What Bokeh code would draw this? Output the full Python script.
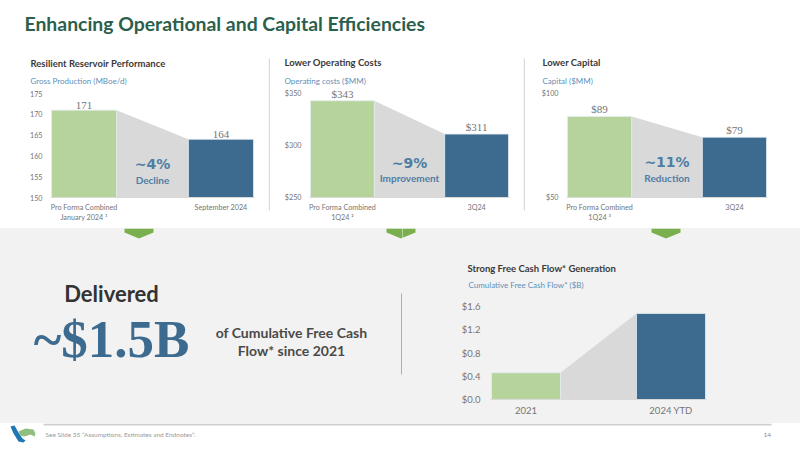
from bokeh.embed import file_html
from bokeh.layouts import column, row
from bokeh.models import ColumnDataSource, Label, LabelSet, Range1d
from bokeh.plotting import figure
from bokeh.resources import INLINE

# ---- data ----
prod_labels = ["Pro Forma Combined\nJanuary 2024 ¹", "September 2024"]
prod_values = [171, 164]
prod_ticks = [150, 155, 160, 165, 170, 175]
prod_text = ["171", "164"]

opex_labels = ["Pro Forma Combined\n1Q24 ²", "3Q24"]
opex_values = [343, 311]
opex_ticks = [250, 300, 350]
opex_text = ["$343", "$311"]

capex_labels = ["Pro Forma Combined\n1Q24 ³", "3Q24"]
capex_values = [89, 79]
capex_ticks = [50, 100]
capex_text = ["$89", "$79"]

fcf_labels = ["2021", "2024 YTD"]
fcf_values = [0.46, 1.48]
fcf_ticks = [0.0, 0.4, 0.8, 1.2, 1.6]

GREEN, BLUE, GREY = "#b6d39b", "#3d6b8f", "#d9d9d9"
BAND, TICK = "#f2f2f2", "#757575"
ACCENT, SUB, DARK = "#4f7da3", "#5f8fb8", "#3a3a3a"
ARROW = "#79b04d"
FONT = "Lato"


def blank(x0, y0, w, h, bg):
    """A figure without axes whose ranges are slide pixels."""
    p = figure(width=w, height=h, output_backend="svg", toolbar_location=None,
               x_range=Range1d(x0, x0 + w), y_range=Range1d(y0 + h, y0),
               min_border=0, background_fill_color=bg, border_fill_color=bg,
               frame_align=False)
    p.axis.visible = False
    p.grid.visible = False
    p.outline_line_color = None
    return p


def text(p, s, x, y, size, color=DARK, bold=False, align="left", font=FONT):
    p.add_layout(Label(x=x, y=y, text=s, text_font=font, text_font_size=f"{size}px",
                       text_color=color, text_font_style="bold" if bold else "normal",
                       text_align=align, text_baseline="middle"))


def poly(p, xs, ys, color):
    p.patch(xs, ys, fill_color=color, line_color=None)


def chart(values, labels, ticks, fmt, size, border, bg, tick_size, y_standoff, plot_h, head=0):
    w, h = size
    left, right, bottom = border
    bw = 0.476
    ymin, ymax = ticks[0], ticks[-1]
    top = ymax + head * (ymax - ymin) / plot_h
    p = figure(width=w, height=h, output_backend="svg", toolbar_location=None,
               x_range=Range1d(-0.245, 1.245), y_range=Range1d(ymin, top),
               min_border_left=left, min_border_right=right, min_border_top=0,
               min_border_bottom=bottom, background_fill_color=bg, border_fill_color=bg,
               frame_align=False)
    p.grid.visible = False
    p.outline_line_color = None
    p.patch([bw / 2, 1 - bw / 2, 1 - bw / 2, bw / 2],
            [values[0], values[1], ymin, ymin], fill_color=GREY, line_color=None)
    src = ColumnDataSource(dict(x=[0, 1], top=values, color=[GREEN, BLUE]))
    p.vbar(x="x", top="top", bottom=ymin, width=bw, fill_color="color",
           line_color="#e4edf2", line_width=0.8, source=src)
    p.yaxis.ticker = ticks
    p.yaxis.major_label_overrides = {t: fmt(t) for t in ticks}
    p.xaxis.ticker = [0, 1]
    p.xaxis.major_label_overrides = {0: labels[0], 1: labels[1]}
    for ax in (p.xaxis[0], p.yaxis[0]):
        ax.major_tick_line_color = None
        ax.minor_tick_line_color = None
        ax.major_label_text_font = FONT
        ax.major_label_text_color = TICK
        ax.major_label_text_font_size = f"{tick_size}px"
    p.yaxis.major_label_standoff = y_standoff
    p.xaxis.major_label_standoff = -1
    p.yaxis.axis_line_color = None
    p.xaxis.axis_line_color = GREY
    return p


def value_labels(p, values, texts, size=11):
    src = ColumnDataSource(dict(x=[0, 1], y=values, t=texts))
    p.add_layout(LabelSet(x="x", y="y", text="t", source=src, y_offset=1, text_align="center",
                          text_baseline="bottom", text_color="#757575", text_font=FONT,
                          text_font_size=f"{size}px"))


def callout(p, big, small, up1, up2):
    """up1/up2: height of the two texts above the baseline, in pixels."""
    p.add_layout(Label(x=0.5, y=p.y_range.start, y_offset=up1, text=big,
                       text_align="center", text_baseline="middle", text_color=ACCENT,
                       text_font="DejaVu Sans", text_font_style="bold", text_font_size="14px"))
    p.add_layout(Label(x=0.5, y=p.y_range.start, y_offset=up2, text=small,
                       text_align="center", text_baseline="middle", text_color=ACCENT,
                       text_font=FONT, text_font_style="bold", text_font_size="10px"))


def divider(x0, w, y0, h, top, bottom, bg, color):
    p = blank(x0, y0, w, h, bg)
    p.quad(left=x0, right=x0 + w, top=top, bottom=bottom, fill_color=color, line_color=None)
    return p


# ---- header ----
header = blank(0, 0, 800, 48, "white")
text(header, "Enhancing Operational and Capital Efficiencies", 24, 23, 19.4, "#2b5f4d", True)

# ---- top charts: chart frames start at y=86, plot scale 104px between extreme ticks ----
t1 = blank(0, 48, 268, 38, "white")
text(t1, "Resilient Reservoir Performance", 30, 63, 9.5, "#3a3a3a", True)
text(t1, "Gross Production (MBoe/d)", 30, 80, 8, SUB)
f1 = chart(prod_values, prod_labels, prod_ticks, str, (268, 142), (50, 14, 31), "white", 7.2, 2, 104, 7)
value_labels(f1, prod_values, prod_text)
callout(f1, "~4%", "Decline", 34, 18)

t2 = blank(270, 48, 253, 38, "white")
text(t2, "Lower Operating Costs", 284, 62, 9.5, "#3a3a3a", True)
text(t2, "Operating costs ($MM)", 284, 80, 8, SUB)
f2 = chart(opex_values, opex_labels, opex_ticks, lambda t: f"${t}", (253, 142), (39, 14, 31), "white", 7.2, 2, 104, 7)
value_labels(f2, opex_values, opex_text)
callout(f2, "~9%", "Improvement", 35, 20)

t3 = blank(525, 48, 275, 38, "white")
text(t3, "Lower Capital", 542, 62, 9.5, "#3a3a3a", True)
text(t3, "Capital ($MM)", 542, 80, 8, SUB)
f3 = chart(capex_values, capex_labels, capex_ticks, lambda t: f"${t}", (275, 142), (41, 33, 31), "white", 7.2, 2, 104, 7)
value_labels(f3, capex_values, capex_text)
callout(f3, "~11%", "Reduction", 36, 20)

d1 = divider(268, 2, 48, 180, 58, 210, "white", GREY)
d2 = divider(523, 2, 48, 180, 58, 210, "white", GREY)

# ---- band ----
left = blank(0, 228, 402, 195, BAND)
text(left, "Delivered", 111, 293, 22, "#333333", True, "center")
text(left, "~$1.5B", 111, 338, 53, BLUE, True, "center", "Liberation Serif")
text(left, "of Cumulative Free Cash", 291, 332, 14, "#4a4a4a", True, "center")
text(left, "Flow* since 2021", 291, 350, 14, "#4a4a4a", True, "center")
left.quad(left=400.5, right=402, top=293, bottom=374, fill_color="#b0b0b0", line_color=None)

t4 = blank(402, 228, 398, 68, BAND)
text(t4, "Strong Free Cash Flow* Generation", 467, 268, 9.5, "#3a3a3a", True)
text(t4, "Cumulative Free Cash Flow* ($B)", 468, 284, 8, SUB)
for fig in (left, t4):
    for a in (124, 386, 651):
        poly(fig, [a, a + 29, a + 29, a + 14.5, a], [228, 228, 232, 238, 232], ARROW)
f4 = chart(fcf_values, fcf_labels, fcf_ticks, lambda t: f"${t:.1f}", (398, 127), (88, 94, 24), BAND, 9.5, 4, 93, 10)

# ---- footer ----
footer = blank(0, 423, 800, 27, "white")
footer.quad(left=43, right=771, top=423, bottom=425, fill_color="#cfcfcf", line_color=None)
text(footer, "See Slide 35 “Assumptions, Estimates and Endnotes”.", 45, 434, 6.5, "#9a9a9a")
text(footer, "14", 763, 434, 6.5, "#8a8a8a")
poly(footer, [10, 14, 18, 22, 25, 23, 18, 13], [426, 425, 432, 438, 440, 442, 441, 433], "#1f77b4")
poly(footer, [18, 25, 33, 35, 34, 30, 24, 20], [431, 428, 429, 433, 436, 434, 436, 435], "#8fbf7f")

top_row = row(column(t1, f1, spacing=0), d1, column(t2, f2, spacing=0), d2, column(t3, f3, spacing=0), spacing=0)
band_row = row(left, column(t4, f4, spacing=0, styles={"background-color": BAND}), spacing=0,
               styles={"background-color": BAND})
page = column(header, top_row, band_row, footer, spacing=0)
open("out.html", "w").write(file_html(page, INLINE))
